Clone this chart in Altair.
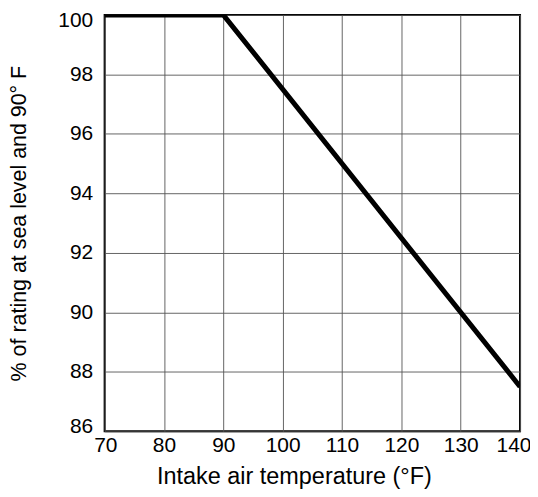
import altair as alt
import pandas as pd

temps = [70, 90, 140]
ratings = [100, 100, 87.5]
x_ticks = [70, 80, 90, 100, 110, 120, 130, 140]
y_ticks = [86, 88, 90, 92, 94, 96, 98, 100]

df = pd.DataFrame({"temp": temps, "rating": ratings})

FONT = "Liberation Sans"

chart = alt.Chart(df).mark_line(color="black", strokeWidth=5, clip=True).encode(
    x=alt.X("temp:Q", scale=alt.Scale(domain=[70, 140], nice=False, zero=False),
            axis=alt.Axis(values=x_ticks, title="Intake air temperature (°F)",
                          labelFontSize=21, titleFontSize=23.5, titleFontWeight="normal",
                          labelPadding=3, titlePadding=9, ticks=False, domain=False,
                          labelFlush=True, labelFlushOffset=11,
                          titleX=190, titleAlign="center",
                          gridColor="#555555", gridWidth=1, gridOpacity=0.9,
                          labelColor="black", titleColor="black", labelFont=FONT, titleFont=FONT)),
    y=alt.Y("rating:Q", scale=alt.Scale(domain=[86, 100], nice=False, zero=False),
            axis=alt.Axis(values=y_ticks, title="% of rating at sea level and 90° F",
                          labelFontSize=21, titleFontSize=21.5, titleFontWeight="normal",
                          labelPadding=12, titlePadding=27, ticks=False, domain=False,
                          labelFlush=True, labelFlushOffset=5,
                          gridColor="#555555", gridWidth=1, gridOpacity=0.9,
                          labelColor="black", titleColor="black", labelFont=FONT, titleFont=FONT)),
).properties(
    width=417, height=418,
    autosize=alt.AutoSizeParams(type="none"),
    padding={"left": 97, "top": 6, "right": 10, "bottom": 57},
).configure_view(stroke="black", strokeWidth=2)

chart.save("out.html", embed_options={"renderer": "svg", "actions": False})
